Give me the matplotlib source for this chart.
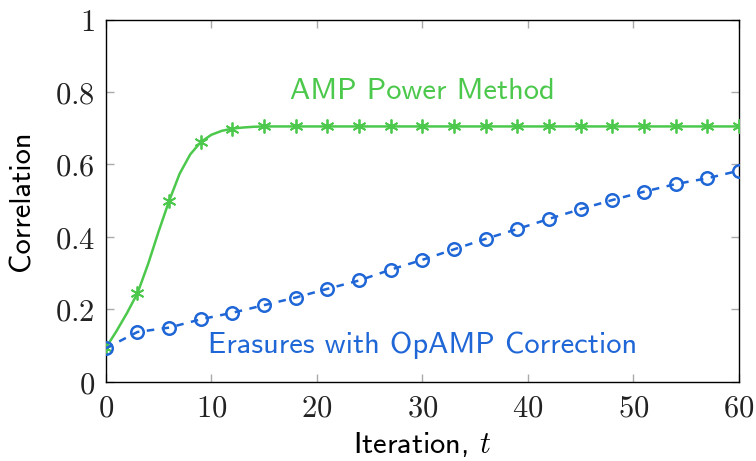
import numpy as np
import matplotlib
matplotlib.use('Agg')
import matplotlib.pyplot as plt

plt.rcParams['mathtext.fontset'] = 'cm'

# AMP power method, read at every iteration (markers every 3rd)
t_amp = np.arange(0, 61)
amp_head = [0.094, 0.14, 0.19, 0.245, 0.325, 0.415, 0.50, 0.575, 0.628, 0.662,
            0.682, 0.693, 0.699, 0.702, 0.704, 0.705]
amp = np.array(amp_head + [0.705] * (61 - len(amp_head)))

# Erasures with OpAMP correction, every 3rd iteration
t_op = np.arange(0, 61, 3)
opamp = [0.093, 0.138, 0.15, 0.173, 0.191, 0.212, 0.233, 0.257, 0.28, 0.31,
         0.337, 0.366, 0.395, 0.422, 0.45, 0.477, 0.502, 0.525, 0.546, 0.562, 0.583]

xticks = [0, 10, 20, 30, 40, 50, 60]
yticks = [0, 0.2, 0.4, 0.6, 0.8, 1]

green = '#4cc84c'
blue = '#1f66d6'

fig = plt.figure(figsize=(7.56, 4.61), dpi=100)
ax = fig.add_axes([0.140, 0.1714, 0.8375, 0.7863])

ax.plot(t_amp, amp, '-', color=green, linewidth=1.8, marker=(6, 2, 0),
        markevery=3, markersize=10, markeredgewidth=1.3, zorder=3)
ax.plot(t_op, opamp, '--', color=blue, linewidth=1.8, dashes=(3, 3),
        marker='o', markersize=9, markerfacecolor='none',
        markeredgewidth=1.8, zorder=4)

ax.text(30, 0.80, 'AMP Power Method', color=green, fontsize=22,
        family='cmss10', ha='center', va='center')
ax.text(30, 0.102, 'Erasures with OpAMP Correction', color=blue, fontsize=22,
        family='cmss10', ha='center', va='center')

ax.set_xlim(0, 60)
ax.set_ylim(0, 1)
ax.set_xticks(xticks)
ax.set_yticks(yticks)
ax.set_xticklabels(['$%g$' % v for v in xticks], fontsize=22, color='#222222')
ax.set_yticklabels(['$%g$' % v for v in yticks], fontsize=22, color='#222222')

ax.tick_params(direction='in', length=6, width=1, color='#aaaaaa',
               top=True, right=True, pad=8)
for s in ax.spines.values():
    s.set_linewidth(1)

ax.set_xlabel(r'Iteration, $t$', fontsize=22, family='cmss10', labelpad=6)
ax.set_ylabel('Correlation', fontsize=22, family='cmss10', labelpad=14)

fig.savefig('out.png', dpi=100)
